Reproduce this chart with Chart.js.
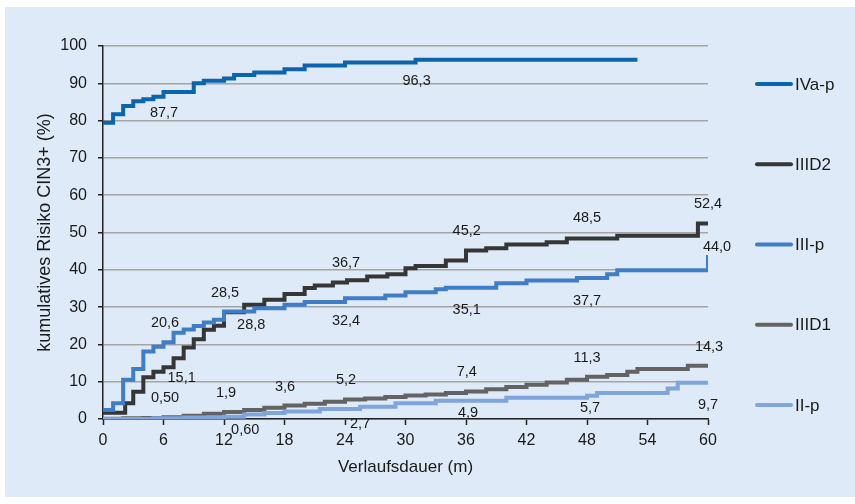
<!DOCTYPE html>
<html>
<head>
<meta charset="utf-8">
<script src="https://cdn.jsdelivr.net/npm/chart.js@4.4.1/dist/chart.umd.min.js"></script>
<style>
  html, body { margin: 0; padding: 0; background: #ffffff; }
  #wrap { width: 855px; height: 504px; }
</style>
</head>
<body>
<div id="wrap"><canvas id="chartRisk" width="855" height="504"></canvas></div>
<script>
const FONT = '"Liberation Sans", Arial, sans-serif';
const TEXT = "#1a1a1a";

const X_TICKS = [0, 6, 12, 18, 24, 30, 36, 42, 48, 54, 60];
const Y_TICKS = [0, 10, 20, 30, 40, 50, 60, 70, 80, 90, 100];

// months / cumulative risk (%) per group
const ivapMonths = [0, 1, 2, 3, 4, 5, 6, 9, 10, 12, 13, 15, 18, 20, 24, 31, 53];
const ivapRisk = [79.4, 81.7, 83.9, 85.2, 85.7, 86.4, 87.7, 90.0, 90.7, 91.3, 92.2, 92.9, 93.8, 94.8, 95.6, 96.3, 96.3];

const iiid2Months = [0, 2.2, 3, 4, 5, 6, 7, 8, 9, 10, 11, 12, 14, 16, 18, 20, 21, 22.8, 24.2, 26.2, 28.2, 30, 31, 34, 36, 38, 40, 44, 46, 51, 59, 60];
const iiid2Risk = [1.7, 4.2, 7.3, 11.2, 12.7, 13.9, 16.3, 19.2, 21.4, 23.9, 25.0, 28.6, 30.6, 32.0, 33.5, 35.1, 35.8, 36.6, 37.2, 38.2, 38.8, 40.4, 41.0, 42.5, 45.2, 45.8, 46.8, 47.4, 48.4, 49.1, 52.4, 52.4];

const iiipMonths = [0, 1, 2, 3, 4, 5, 6, 7, 8, 9, 10, 11, 12, 15, 18, 20, 24, 28, 30, 33, 34, 39, 42, 47, 50, 51, 60];
const iiipRisk = [2.4, 4.2, 10.5, 13.4, 18.1, 19.4, 20.6, 23.1, 24.0, 24.9, 25.9, 26.6, 28.8, 29.7, 30.6, 31.4, 32.4, 33.1, 34.0, 34.8, 35.2, 36.4, 37.1, 37.8, 38.8, 39.9, 44.0];

const iiid1Months = [0, 2, 4, 6, 8, 10, 12, 14, 16, 18, 20, 22, 24, 26, 28, 30, 32, 34, 36, 38, 40, 42, 44, 46, 48, 50, 52, 53, 58, 60];
const iiid1Risk = [0.1, 0.2, 0.3, 0.5, 0.9, 1.4, 1.9, 2.4, 3.0, 3.6, 4.1, 4.6, 5.2, 5.5, 5.9, 6.3, 6.6, 7.0, 7.4, 8.0, 8.6, 9.2, 9.8, 10.5, 11.3, 11.8, 12.7, 13.4, 14.3, 14.3];

const iipMonths = [0, 5, 8, 12, 14, 16, 18, 21.5, 25.5, 29, 33, 40, 48, 49, 56, 57, 60];
const iipRisk = [0, 0.2, 0.4, 0.6, 1.2, 1.6, 2.0, 2.7, 3.3, 4.2, 4.9, 5.7, 6.2, 7.0, 8.2, 9.7, 9.7];

// value labels: text, month, risk where the label sits
const labelTexts = ["87,7", "96,3", "52,4", "48,5", "45,2", "36,7", "28,5", "44,0", "20,6", "28,8", "32,4", "35,1", "37,7", "15,1", "0,50", "1,9", "3,6", "0,60", "5,2", "7,4", "4,9", "2,7", "11,3", "14,3", "5,7", "9,7"];
const labelMonths = [6.05, 31.1, 60, 48, 36.07, 24.1, 12.1, 60.9, 6.15, 14.7, 24.1, 36.07, 48, 7.8, 6.15, 12.2, 18.05, 14.1, 24.1, 36.07, 36.2, 25.5, 48, 60.1, 48.3, 60];
const labelRisk = [82.0, 90.7, 57.6, 53.8, 50.5, 41.9, 33.9, 46.0, 25.7, 25.2, 26.4, 29.2, 31.7, 10.9, 5.5, 6.9, 8.7, -2.9, 10.5, 12.7, 1.7, -1.3, 16.3, 19.4, 2.9, 3.75];

function toPoints(xs, ys) {
  return xs.map((x, i) => ({ x, y: ys[i] }));
}

function stepLine(label, color, xs, ys, order) {
  return {
    label,
    data: toPoints(xs, ys),
    borderColor: color,
    backgroundColor: color,
    borderWidth: 4,
    borderCapStyle: "butt",
    borderJoinStyle: "miter",
    stepped: "before",
    pointRadius: 0,
    fill: false,
    order,
  };
}

const bgPanel = {
  id: "bgPanel",
  beforeDraw(chart) {
    const { ctx } = chart;
    ctx.save();
    ctx.fillStyle = "#deeaf7";
    ctx.fillRect(5, 7, 850, 490);
    ctx.restore();
  },
};

const valueLabels = {
  id: "valueLabels",
  afterDatasetsDraw(chart) {
    const { ctx, scales } = chart;
    ctx.save();
    ctx.font = "14.5px " + FONT;
    ctx.fillStyle = TEXT;
    ctx.textAlign = "center";
    ctx.textBaseline = "middle";
    labelTexts.forEach((t, i) => {
      ctx.fillText(t, scales.x.getPixelForValue(labelMonths[i]), scales.y.getPixelForValue(labelRisk[i]));
    });
    ctx.restore();
  },
};

// legend drawn by hand: the original spaces the entries far apart down the right side
const sideLegend = {
  id: "sideLegend",
  afterDraw(chart) {
    const { ctx } = chart;
    ctx.save();
    ctx.font = "17px " + FONT;
    ctx.textBaseline = "middle";
    ctx.textAlign = "left";
    chart.data.datasets.forEach((ds, i) => {
      const y = 84 + i * 80.25;
      ctx.strokeStyle = ds.borderColor;
      ctx.lineWidth = 4;
      ctx.lineCap = "round";
      ctx.beginPath();
      ctx.moveTo(757, y);
      ctx.lineTo(791, y);
      ctx.stroke();
      ctx.fillStyle = TEXT;
      ctx.fillText(ds.label, 795, y + 1);
    });
    ctx.restore();
  },
};

new Chart(document.getElementById("chartRisk"), {
  type: "line",
  data: {
    datasets: [
      stepLine("IVa-p", "#0b64ae", ivapMonths, ivapRisk, 0),
      stepLine("IIID2", "#363636", iiid2Months, iiid2Risk, 1),
      stepLine("III-p", "#3f7dc7", iiipMonths, iiipRisk, 0),
      stepLine("IIID1", "#636363", iiid1Months, iiid1Risk, 2),
      stepLine("II-p", "#7fa5dc", iipMonths, iipRisk, 1),
    ],
  },
  options: {
    responsive: false,
    animation: false,
    layout: { padding: { left: 0, right: 147, top: 46, bottom: 0 } },
    plugins: { legend: { display: false }, tooltip: { enabled: false } },
    scales: {
      x: {
        type: "linear",
        min: 0,
        max: 60,
        afterBuildTicks: (s) => { s.ticks = X_TICKS.map((v) => ({ value: v })); },
        ticks: { color: TEXT, font: { family: FONT, size: 16 }, padding: 6, maxRotation: 0 },
        grid: { drawOnChartArea: false, tickLength: 6, tickColor: "#222222", tickWidth: 1.5 },
        border: { color: "#222222", width: 1.5 },
        title: { display: true, text: "Verlaufsdauer (m)", color: TEXT, font: { family: FONT, size: 17 }, padding: { top: 0, bottom: 26 } },
        afterFit: (s) => { s.height = 85; },
      },
      y: {
        type: "linear",
        min: 0,
        max: 100,
        afterBuildTicks: (s) => { s.ticks = Y_TICKS.map((v) => ({ value: v })); },
        ticks: { color: TEXT, font: { family: FONT, size: 16 }, padding: 11 },
        grid: { color: "#a4a4a4", lineWidth: 1.5, tickLength: 5, tickColor: "#222222", tickWidth: 1.5 },
        border: { color: "#222222", width: 1.5 },
        title: { display: true, text: "kumulatives Risiko CIN3+ (%)", color: TEXT, font: { family: FONT, size: 18 }, padding: { top: 34, bottom: 0 } },
        afterFit: (s) => { s.width = 103; },
      },
    },
  },
  plugins: [bgPanel, valueLabels, sideLegend],
});
</script>
</body>
</html>
